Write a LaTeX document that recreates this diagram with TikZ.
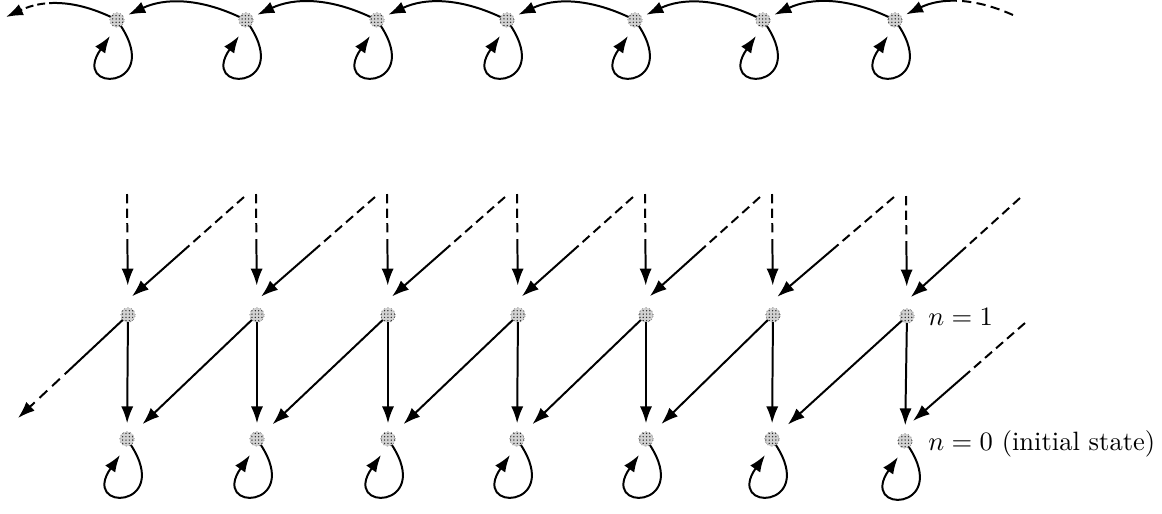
\documentclass[tikz,border=0pt]{standalone}
\usetikzlibrary{arrows.meta,calc,patterns.meta}
\begin{document}
\begin{tikzpicture}[x=0.377pt,y=0.377pt,
  st/.style={circle,minimum size=5.4pt,inner sep=0pt,outer sep=0pt,draw=gray!85,densely dotted,line width=0.35pt,fill=gray!35,
    postaction={pattern={Dots[radius=0.28pt,distance=1.25pt]},pattern color=black!85}},
  arr/.style={line width=0.75pt,-{Latex[length=6.4pt,width=4.6pt]}},
  dashv/.style={dash pattern=on 3.5pt off 2pt on 3.5pt off 2pt on 3.5pt off 2.5pt on 300pt off 1pt},
  dashd/.style={dash pattern=on 3.5pt off 2pt on 3.5pt off 2pt on 3.5pt off 2pt on 3.5pt off 2pt on 3.5pt off 2pt on 300pt off 1pt},
  selfloop/.style={arr}
]
\useasboundingbox (0,0) rectangle (1162,-513);

% top row
\node[st] (t1) at (117,-20) {};
\node[st] (t2) at (246,-20) {};
\node[st] (t3) at (377,-20) {};
\node[st] (t4) at (507,-20) {};
\node[st] (t5) at (635,-20) {};
\node[st] (t6) at (763,-20) {};
\node[st] (t7) at (895,-20) {};
% middle row (n=1)
\node[st] (m1) at (128,-315) {};
\node[st] (m2) at (257,-315) {};
\node[st] (m3) at (388,-315) {};
\node[st] (m4) at (518,-315) {};
\node[st] (m5) at (646,-315) {};
\node[st] (m6) at (773,-315) {};
\node[st] (m7) at (907,-316) {};
% bottom row (n=0)
\node[st] (b1) at (127,-439) {};
\node[st] (b2) at (257,-439) {};
\node[st] (b3) at (388,-439) {};
\node[st] (b4) at (517,-439) {};
\node[st] (b5) at (646,-439) {};
\node[st] (b6) at (772,-439) {};
\node[st] (b7) at (905,-441) {};

\node[anchor=west] (l1) at (919,-317) {$n=1$};
\node[anchor=west] (l0) at (919,-444) {$n=0$ (initial state)};

% free ends
\coordinate (tl) at (6,-17);
\coordinate (tr) at (1013,-15);
\coordinate (lo) at (18,-418);
\coordinate (ro) at (1025,-323);
\coordinate (v1) at (127,-194);
\coordinate (v2) at (256,-194);
\coordinate (v3) at (387,-194);
\coordinate (v4) at (517,-194);
\coordinate (v5) at (645,-194);
\coordinate (v6) at (772,-194);
\coordinate (v7) at (906,-196);
\coordinate (d1) at (244,-197);
\coordinate (d2) at (375,-197);
\coordinate (d3) at (505,-197);
\coordinate (d4) at (633,-197);
\coordinate (d5) at (760,-197);
\coordinate (d6) at (894,-197);
\coordinate (d7) at (1020,-198);

% top row arcs
\foreach \i/\j in {1/2,2/3,3/4,4/5,5/6,6/7}
  \draw[arr,shorten >=2pt] (t\j) to[bend right=25] (t\i);
\draw[arr,dash pattern=on 24pt off 1.5pt on 3pt off 1.5pt on 3pt off 1.5pt on 3pt off 1.5pt] (t1) to[bend right=25] (tl);
\draw[arr,shorten >=2pt,dash pattern=on 3.5pt off 2pt on 3.5pt off 2pt on 3.5pt off 2pt on 3.5pt off 2pt on 300pt off 1pt] (tr) to[bend right=25] (t7);

% self loops
\foreach \i in {1,...,7}{
  \draw[selfloop] (t\i) .. controls +(-57:84) and +(-125:70) .. ($(t\i)+(-7,-16)$);
  \draw[selfloop] (b\i) .. controls +(-57:84) and +(-125:70) .. ($(b\i)+(-7,-16)$);
}

% arrows into n=1
\foreach \i in {1,...,7}{
  \draw[arr,dashv,shorten >=8.4pt] (v\i) -- (m\i);
  \draw[arr,dashd,shorten >=10.6pt] (d\i) -- ($(m\i)+(-17,0)$);
}

% arrows into n=0
\foreach \i in {1,...,7}
  \draw[arr,shorten >=3.2pt] (m\i) -- (b\i);
\foreach \i/\j in {1/2,2/3,3/4,4/5,5/6,6/7}
  \draw[arr,shorten >=5.4pt] (m\j) -- (b\i);
\draw[arr,dash pattern=on 30pt off 2.5pt on 4pt off 2.5pt on 4pt off 2.5pt on 4pt off 2.5pt] (m1) -- (lo);
\draw[arr,dashd,shorten >=11.5pt] (ro) -- ($(b7)+(-15,0)$);
\end{tikzpicture}
\end{document}
